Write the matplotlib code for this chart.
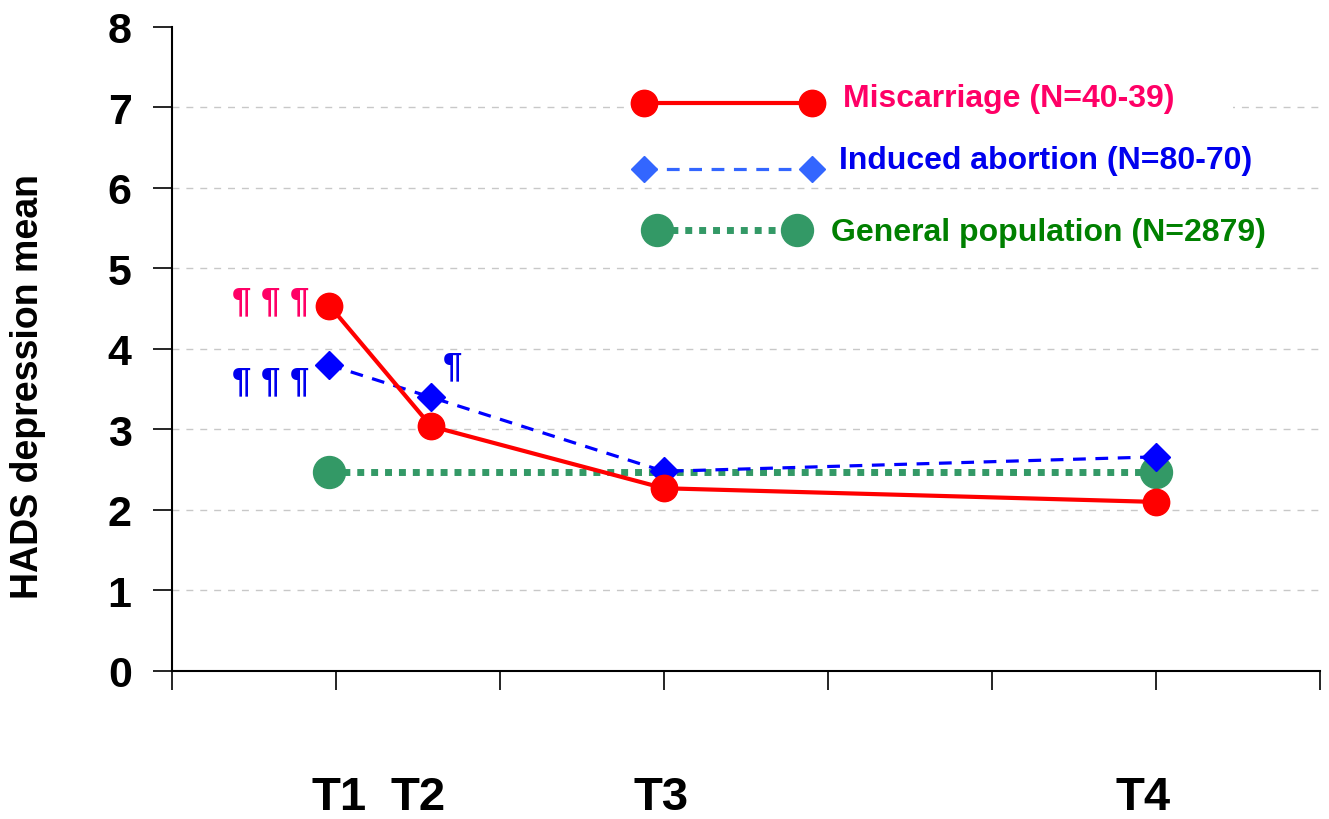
import matplotlib.pyplot as plt
from matplotlib.patches import Rectangle

plt.rcParams['font.family'] = ['Liberation Sans', 'DejaVu Sans']
plt.rcParams['font.weight'] = 'bold'

# time points (position on the x axis) and labels
time_pos = [0.96, 1.58, 3.0, 6.0]
time_labels = ['T1', 'T2', 'T3', 'T4']
label_pos = [1.02, 1.5, 2.98, 5.92]

miscarriage = [4.54, 3.04, 2.27, 2.10]
induced = [3.80, 3.40, 2.48, 2.66]
general_x = [0.96, 6.0]
general = [2.47, 2.47]

fig = plt.figure(figsize=(13.29, 8.2), dpi=100)
ax = fig.add_axes([0.1294, 0.1805, 0.8638, 0.7854])

ax.set_xlim(0, 7)
ax.set_ylim(0, 8)
ax.set_xticks(range(0, 8))
ax.set_xticklabels([])
ax.set_yticks(range(0, 9))
ax.tick_params(axis='y', labelsize=31, length=14, width=1.2, pad=15)
ax.tick_params(axis='x', length=14, width=1.2)
for lab in ax.get_yticklabels():
    lab.set_fontweight('bold')
for s in ['top', 'right']:
    ax.spines[s].set_visible(False)
ax.spines['left'].set_linewidth(1.5)
ax.spines['bottom'].set_linewidth(1.5)

# dashed grid lines 1..7 only
for gy in range(1, 8):
    ax.axhline(gy, color='#c8c8c8', linestyle=(0, (5, 5)), linewidth=1, zorder=0)

fig.text(0.0211, 0.529, 'HADS depression mean', fontsize=27, fontweight='bold',
         rotation=90, ha='center', va='center')

# data series
ax.plot(general_x, general, color='#339966', linestyle=(0, (1, 1)), linewidth=5,
        marker='o', markersize=23, zorder=3)
ax.plot(time_pos, induced, color='#0000ff', linestyle=(0, (4, 3)), linewidth=2.3,
        marker='D', markersize=14, zorder=4)
ax.plot(time_pos, miscarriage, color='#ff0000', linestyle='-', linewidth=3,
        marker='o', markersize=19, zorder=5)

# significance marks
ax.text(0.84, 4.6, '¶ ¶ ¶', color='#ff0066', fontsize=25, ha='right', va='center')
ax.text(0.84, 3.6, '¶ ¶ ¶', color='#0000ee', fontsize=25, ha='right', va='center')
ax.text(1.71, 3.79, '¶', color='#0000ee', fontsize=25, ha='center', va='center')

# hand-made legend
ax.add_patch(Rectangle((2.76, 6.85), 3.71, 0.4, facecolor='white', edgecolor='none', zorder=1))
ax.plot([2.88, 3.9], [7.05, 7.05], color='#ff0000', linewidth=3,
        marker='o', markersize=19, zorder=5)
ax.plot([2.88, 3.9], [6.24, 6.24], color='#3366ff', linestyle=(0, (4, 3)), linewidth=2.3,
        marker='D', markersize=13, zorder=5)
ax.plot([2.96, 3.81], [5.48, 5.48], color='#339966', linestyle=(0, (1, 1)), linewidth=5,
        marker='o', markersize=23, zorder=5)
ax.text(4.09, 7.12, 'Miscarriage (N=40-39)', color='#ff0066', fontsize=23,
        fontweight='bold', va='center')
ax.text(4.07, 6.35, 'Induced abortion (N=80-70)', color='#0000ee', fontsize=23,
        fontweight='bold', va='center')
ax.text(4.02, 5.45, 'General population (N=2879)', color='#008000', fontsize=23,
        fontweight='bold', va='center')

# time point labels below the axis
for xp, lab in zip(label_pos, time_labels):
    ax.text(xp, -1.72, lab, fontsize=34, fontweight='bold', ha='center', va='baseline',
            clip_on=False)

fig.savefig('out.png', dpi=100)
